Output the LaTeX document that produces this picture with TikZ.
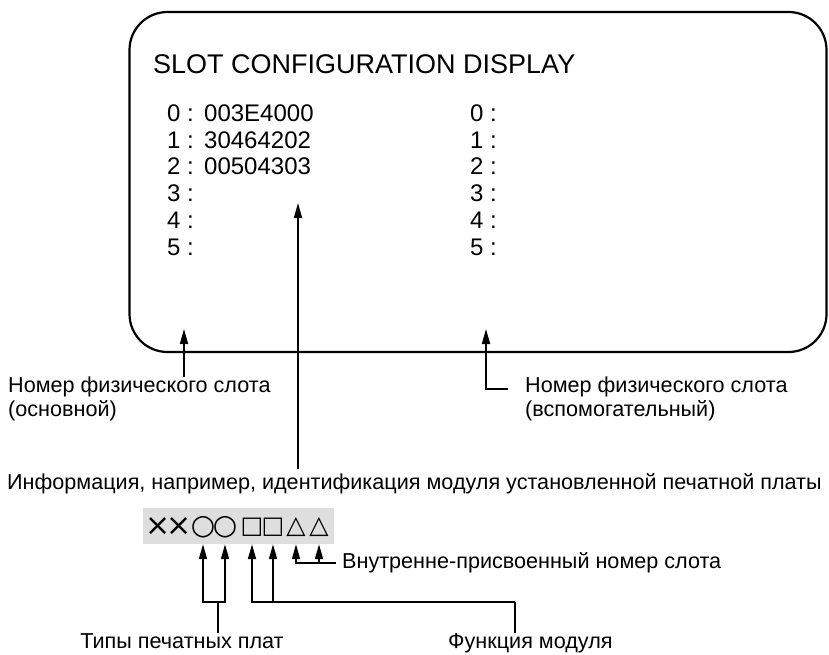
\documentclass[tikz,border=0pt]{standalone}
\usepackage{fontspec}
\setmainfont{Liberation Sans}
\newfontfamily\symfont{DejaVu Sans}
\usetikzlibrary{arrows.meta,positioning}

\begin{document}
\begin{tikzpicture}[x=1pt,y=-1pt,
    lbl/.style={inner sep=0pt,font=\fontsize{21.6}{23.5}\selectfont,align=left},
    row/.style={anchor=west,inner sep=0pt,font=\fontsize{24}{26}\selectfont},
    sym/.style={inner sep=0pt,font=\symfont\fontsize{#1}{#1}\selectfont},
    a/.style={-{Triangle[length=15pt,width=8pt]},line width=1.7pt},
    ln/.style={line width=1.7pt}]
  \useasboundingbox (0,0) rectangle (829,655);
  % screen
  \node[draw,line width=2.2pt,rounded corners=38pt,minimum width=697pt,minimum height=340pt,inner sep=0pt] (scr) at (478,182) {};
  \node[anchor=west,inner sep=0pt,font=\fontsize{27}{30}\selectfont] (title) at (153,64) {SLOT CONFIGURATION DISPLAY};
  \foreach \i/\v in {0/003E4000,1/30464202,2/00504303,3/,4/,5/} {
    \node[row] (l\i) at (167,113+26.8*\i) {\i\ :};
    \node[row] (v\i) at (204,113+26.8*\i) {\v};
    \node[row] (r\i) at (470,113+26.8*\i) {\i\ :};
  }
  % labels
  \node[lbl,anchor=north west] (lmain) at (8,377) {Номер физического слота\\(основной)};
  \node[lbl,anchor=north west] (raux) at (525,377) {Номер физического слота\\(вспомогательный)};
  \node[lbl,anchor=west] (info) at (7,484) {Информация, например, идентификация модуля установленной печатной платы};
  \coordinate (pl) at (184,329);
  \coordinate (pm) at (298,203);
  \coordinate (pr) at (486,329);
  \draw[a] (lmain.north -| pl) -- (pl);
  \draw[a] ([yshift=5pt]info.north -| pm) -- (pm);
  \draw[a] ([shift={(-17pt,-12pt)}]raux.north west) -| (pr);
  % code
  \node[fill=black!13,minimum width=191pt,minimum height=36pt,inner sep=0pt] (code) at (238,526) {};
  \foreach \x/\s/\f [count=\k] in {158/×/30,179/×/30,203/○/28,225/○/28,252/□/24,273/□/24,296/△/25,319/△/25}
    \node[sym=\f] (s\k) at (\x,527) {\s};
  \node[lbl,anchor=west,inner sep=6pt] (slot) at (336,563) {Внутренне-присвоенный номер слота};
  \node[lbl,anchor=north] (types) at (182,633) {Типы печатных плат};
  \node[lbl,anchor=north west] (func) at (448,633) {Функция модуля};
  \coordinate (j1) at (218,602);
  \coordinate (j2) at (515,602);
  \draw[ln] (j1) -- (j1 |- types.north);
  \draw[ln] (j2) -- (j2 |- func.north);
  \draw[a] (j1) -| (s3 |- code.south);
  \draw[a] (j1) -| (s4 |- code.south);
  \draw[a] (j2) -| (s5 |- code.south);
  \draw[a] (j2) -| (s6 |- code.south);
  \draw[a] (slot.west) -| (s7 |- code.south);
  \draw[a] (slot.west) -| (s8 |- code.south);
\end{tikzpicture}
\end{document}
